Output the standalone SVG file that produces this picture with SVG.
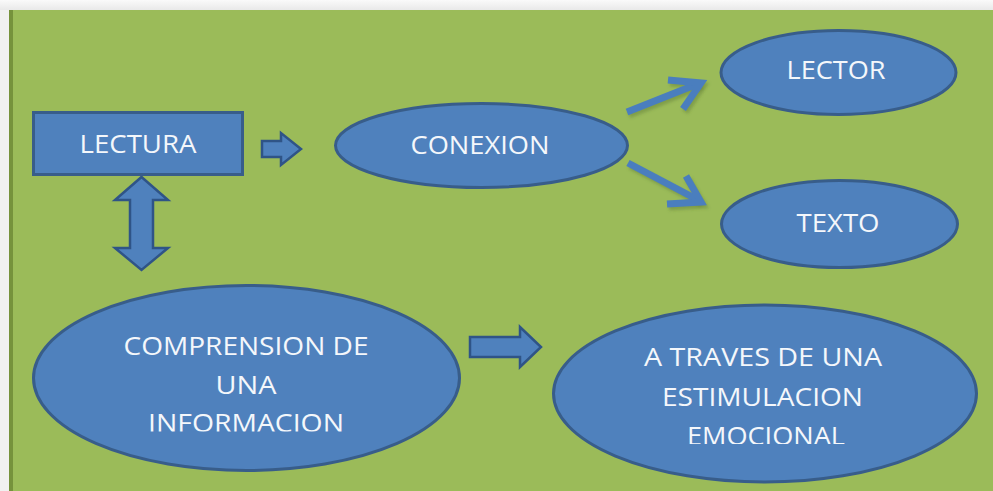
<svg xmlns="http://www.w3.org/2000/svg" width="993" height="491" viewBox="0 0 993 491">
<style>
.node{fill:#4f81bd;stroke:#385d8a;stroke-width:3}
.blk{fill:#4f81bd;stroke:#2f5487;stroke-width:2.5;stroke-linejoin:miter}
.t{font-family:"Open Sans","Liberation Sans",sans-serif;font-size:26px;fill:#f4f7fb;text-anchor:middle}
.ln{fill:none;stroke:#4a7ebe;stroke-width:7;stroke-linejoin:miter;stroke-linecap:butt}
.sh{fill:none;stroke:#4d6a2a;stroke-opacity:0.35;stroke-width:7;stroke-linejoin:miter}
</style>
<defs>
<linearGradient id="top" x1="0" y1="0" x2="0" y2="1">
<stop offset="0" stop-color="#fafafa"/>
<stop offset="1" stop-color="#e9e9e9"/>
</linearGradient>
<filter id="blur" x="-20%" y="-20%" width="140%" height="140%"><feGaussianBlur stdDeviation="1.5"/></filter>
<clipPath id="clipA"><rect x="0" y="0" width="993" height="444"/></clipPath>
<clipPath id="clipC"><rect x="0" y="0" width="993" height="431.5"/></clipPath>
</defs>
<rect x="0" y="0" width="993" height="491" fill="#f1f1f1"/>
<rect x="0" y="0" width="993" height="10" fill="url(#top)"/>
<rect x="9" y="10" width="984" height="481" fill="#9bbb59"/>
<rect x="9" y="10" width="4" height="481" fill="#76923c"/>

<g id="connectors">
<path class="blk" d="M262,141 H281 V133 L301,149 L281,165 V157 H262 Z"/>
<path class="blk" d="M470,337 H520 V327 L541,347 L520,367 V357 H470 Z"/>
<path class="blk" d="M141.5,177 L168,200 H153 V248 H168 L141.5,270 L115,248 H130 V200 H115 Z"/>
<g filter="url(#blur)" transform="translate(2,3)">
<path class="sh" d="M627,112 L700,83"/>
<path class="sh" d="M668,80 L701,83 L683,109"/>
<path class="sh" d="M628,163 L700,201"/>
<path class="sh" d="M686,176 L701,202 L667,204"/>
</g>
<path class="ln" d="M627,112 L700,83"/>
<path class="ln" d="M668,80 L701,83 L683,109"/>
<path class="ln" d="M628,163 L700,201"/>
<path class="ln" d="M686,176 L701,202 L667,204"/>
</g>

<g id="lectura">
<rect class="node" x="33.5" y="112.5" width="209" height="62"/>
<text class="t" x="138" y="153" textLength="117" lengthAdjust="spacingAndGlyphs">LECTURA</text>
</g>
<g id="conexion">
<ellipse class="node" cx="481.5" cy="145.5" rx="146" ry="42"/>
<text class="t" x="480" y="154" textLength="139" lengthAdjust="spacingAndGlyphs">CONEXION</text>
</g>
<g id="lector">
<ellipse class="node" cx="838.5" cy="72.5" rx="117.5" ry="42"/>
<text class="t" x="836" y="79" textLength="99" lengthAdjust="spacingAndGlyphs">LECTOR</text>
</g>
<g id="texto">
<ellipse class="node" cx="839.5" cy="224" rx="118" ry="43.5"/>
<text class="t" x="838" y="232" textLength="83" lengthAdjust="spacingAndGlyphs">TEXTO</text>
</g>
<g id="comprension">
<ellipse class="node" cx="246.5" cy="378" rx="213" ry="92.5"/>
<g clip-path="url(#clipC)">
<text class="t" x="246" y="355" textLength="245" lengthAdjust="spacingAndGlyphs">COMPRENSION DE</text>
<text class="t" x="246" y="394" textLength="61" lengthAdjust="spacingAndGlyphs">UNA</text>
<text class="t" x="246" y="432" textLength="196" lengthAdjust="spacingAndGlyphs">INFORMACION</text>
</g>
</g>
<g id="atraves">
<ellipse class="node" cx="765" cy="393.5" rx="211.5" ry="88.5"/>
<g clip-path="url(#clipA)">
<text class="t" x="763" y="366" textLength="238" lengthAdjust="spacingAndGlyphs">A TRAVES DE UNA</text>
<text class="t" x="762.5" y="406" textLength="201" lengthAdjust="spacingAndGlyphs">ESTIMULACION</text>
<text class="t" x="766" y="445" textLength="158" lengthAdjust="spacingAndGlyphs">EMOCIONAL</text>
</g>
</g>
</svg>
